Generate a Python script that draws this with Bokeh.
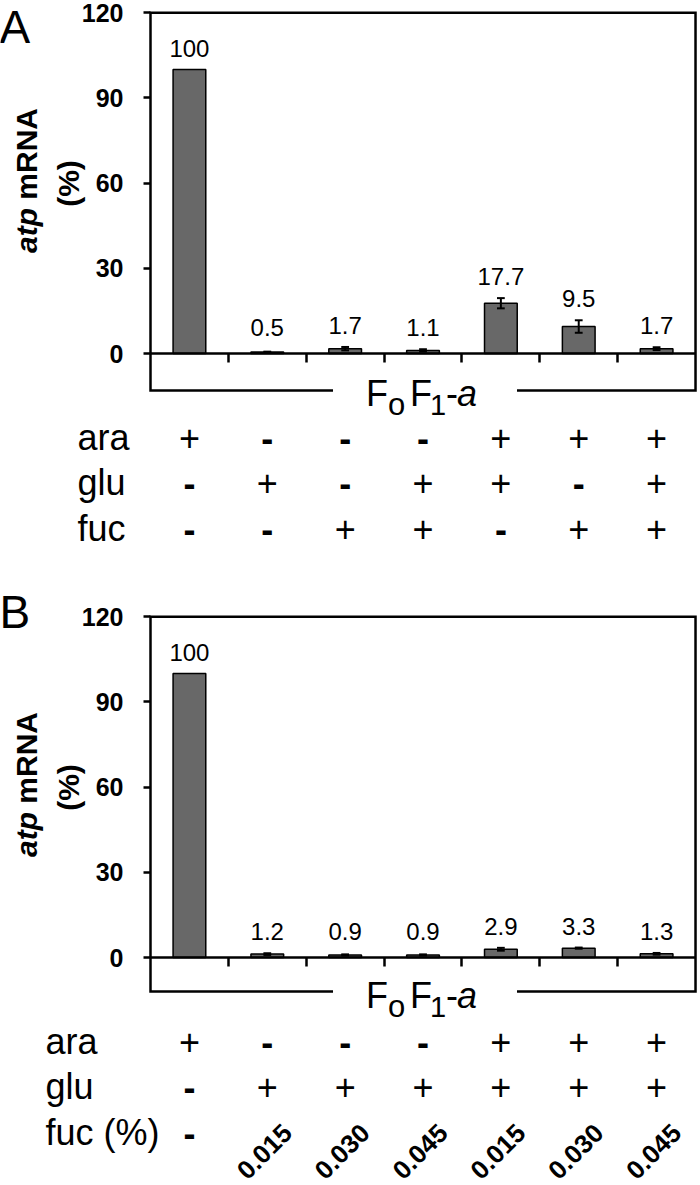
import math
from bokeh.plotting import figure
from bokeh.models import LinearAxis, FixedTicker, Range1d
from bokeh.layouts import column
from bokeh.embed import file_html
from bokeh.resources import INLINE
from bokeh.core.properties import value

# ---------------- data ----------------
lanes = ["1", "2", "3", "4", "5", "6", "7"]
y_ticks = [0, 30, 60, 90, 120]

a_values = [100, 0.5, 1.7, 1.1, 17.7, 9.5, 1.7]
a_errors = [0, 0.15, 0.6, 0.4, 1.8, 2.2, 0.5]
a_labels = ["100", "0.5", "1.7", "1.1", "17.7", "9.5", "1.7"]
a_row_names = ["ara", "glu", "fuc"]
a_ara = ["+", "-", "-", "-", "+", "+", "+"]
a_glu = ["-", "+", "-", "+", "+", "-", "+"]
a_fuc = ["-", "-", "+", "+", "-", "+", "+"]

b_values = [100, 1.2, 0.9, 0.9, 2.9, 3.3, 1.3]
b_errors = [0, 0.3, 0.2, 0.2, 0.5, 0.2, 0.3]
b_labels = ["100", "1.2", "0.9", "0.9", "2.9", "3.3", "1.3"]
b_row_names = ["ara", "glu", "fuc (%)"]
b_ara = ["+", "-", "-", "-", "+", "+", "+"]
b_glu = ["-", "+", "+", "+", "+", "+", "+"]
b_fuc = ["-", "0.015", "0.030", "0.045", "0.015", "0.030", "0.045"]

# ---------------- layout constants ----------------
FONT = "Liberation Sans"
W = 700
LEFT = 150          # canvas px of the value axis
CAT = 77.86         # px per lane
PXU = 2.84          # px per y unit
BAR_COLOR = "#686868"
LW = 2.5
MID = 0.347         # em-box middle above the baseline


def make_panel(letter, vals, errs, labels, row_names, rows, H, zero_px,
               letter_base_above, row_label_px, bracket_px, gene_base_px):
    n = len(lanes)
    p = figure(width=W, height=H,
               x_range=Range1d(-LEFT / CAT, (W - LEFT) / CAT),
               y_range=Range1d(-(H - zero_px) / PXU, zero_px / PXU),
               output_backend="svg", toolbar_location=None,
               x_axis_type=None, y_axis_type=None, min_border=0,
               outline_line_color=None)
    p.background_fill_color = "white"
    p.border_fill_color = "white"

    def dy(px):
        return px / PXU

    def dx(px):
        return px / CAT

    def xp(canvas_px):
        return (canvas_px - LEFT) / CAT

    xc = [i + 0.5 for i in range(n)]

    # value axis
    yax = LinearAxis(fixed_location=0, ticker=FixedTicker(ticks=y_ticks),
                     axis_line_color=None, major_tick_out=7, major_tick_in=0,
                     minor_tick_out=0, minor_tick_in=0,
                     major_tick_line_width=LW, major_tick_line_color="black",
                     major_label_standoff=20,
                     major_label_text_font=FONT,
                     major_label_text_font_style="bold",
                     major_label_text_font_size="25px",
                     major_label_text_color="black")
    p.add_layout(yax, "left")

    # lane separator ticks
    sep = list(range(1, n))
    xax = LinearAxis(fixed_location=0, ticker=FixedTicker(ticks=sep),
                     axis_line_color=None, major_tick_out=9, major_tick_in=0,
                     minor_tick_out=0, minor_tick_in=0,
                     major_tick_line_width=LW, major_tick_line_color="black",
                     major_label_overrides={s: "" for s in sep},
                     major_label_text_font_size="1px")
    p.add_layout(xax, "below")

    # bars
    p.vbar(x=xc, top=vals, bottom=0, width=0.42, fill_color=BAR_COLOR,
           line_color="black", line_width=1.5)

    # error bars
    ex = [x for x, e in zip(xc, errs) if e > 0]
    lo = [v - e for v, e in zip(vals, errs) if e > 0]
    hi = [v + e for v, e in zip(vals, errs) if e > 0]
    p.segment(x0=ex, y0=lo, x1=ex, y1=hi, line_color="black", line_width=2)
    cw = 0.05
    p.segment(x0=[x - cw for x in ex], y0=hi, x1=[x + cw for x in ex], y1=hi,
              line_color="black", line_width=2)
    p.segment(x0=[x - cw for x in ex], y0=lo, x1=[x + cw for x in ex], y1=lo,
              line_color="black", line_width=2)

    # frame + bracket
    b = -dy(bracket_px)
    mid = n / 2
    p.line(x=[mid - dx(90), 0, 0, n, n, mid + dx(94)],
           y=[b, b, y_ticks[-1], y_ticks[-1], b, b],
           line_color="black", line_width=LW, line_join="miter")
    p.line(x=[0, n], y=[0, 0], line_color="black", line_width=LW)

    # value labels (baseline 13 px above the error bar, at least 18 px above 0)
    vfs = 24
    ly = [max(v + e + dy(13), dy(18)) + dy(MID * vfs) for v, e in zip(vals, errs)]
    p.text(x=xc, y=ly, text=labels, text_align="center",
           text_baseline="middle", text_font=value(FONT),
           text_font_size=f"{vfs}px", text_color="black")

    # gene label F_O F_1 - a
    pieces = [("F", -57, 36, "normal", 0), ("o", -35, 31, "normal", 10),
              ("F", -13, 36, "normal", 0), ("1", 7, 29, "normal", 10),
              ("-", 23, 36, "normal", 0), ("a", 34, 36, "italic", 0)]
    for t, off, fs, st, sub in pieces:
        yb = -dy(gene_base_px + sub) + dy(MID * fs)
        p.text(x=[mid + dx(off)], y=[yb], text=[t], text_align="left",
               text_baseline="middle", text_font=value(FONT),
               text_font_size=f"{fs}px", text_font_style=st, text_color="black")

    # y-axis title: "atp mRNA" / "(%)"
    F = 30
    yc = dy(173)
    start = yc - dy(4.833 * F / 2)
    p.text(x=[xp(26)], y=[start], text=["atp"], angle=math.pi / 2,
           text_align="left", text_baseline="middle", text_font=value(FONT),
           text_font_size=f"{F}px", text_font_style="bold italic",
           text_color="black")
    p.text(x=[xp(26)], y=[start + dy(1.778 * F)], text=["mRNA"],
           angle=math.pi / 2, text_align="left", text_baseline="middle",
           text_font=value(FONT), text_font_size=f"{F}px",
           text_font_style="bold", text_color="black")
    p.text(x=[xp(68)], y=[dy(170)], text=["(%)"], angle=math.pi / 2,
           text_align="center", text_baseline="middle", text_font=value(FONT),
           text_font_size=f"{F}px", text_font_style="bold", text_color="black")

    # panel letter
    lfs = 46
    p.text(x=[xp(-1)], y=[dy(letter_base_above) + dy(MID * lfs)], text=[letter],
           text_align="left", text_baseline="middle", text_font=value(FONT),
           text_font_size=f"{lfs}px", text_color="black")

    # condition rows
    row_offsets = [84, 129, 175]
    for name, cells, off in zip(row_names, rows, row_offsets):
        yy = -dy(off)
        p.text(x=[xp(row_label_px)], y=[yy], text=[name], text_align="left",
               text_baseline="middle", text_font=value(FONT),
               text_font_size="36px", text_color="black")
        sx = [x for x, c in zip(xc, cells) if c in ("+", "-")]
        st = [c for c in cells if c in ("+", "-")]
        sst = ["bold" if c == "-" else "normal" for c in st]
        p.text(x=sx, y=[yy] * len(sx), text=st, text_align="center",
               text_baseline="middle", text_font=value(FONT),
               text_font_size="36px", text_font_style=sst, text_color="black")
        rx = [x - dx(3) for x, c in zip(xc, cells) if c not in ("+", "-")]
        rt = [c for c in cells if c not in ("+", "-")]
        if rt:
            p.text(x=rx, y=[-dy(194)] * len(rx), text=rt, angle=math.pi / 4,
                   text_align="center", text_baseline="middle",
                   text_font=value(FONT), text_font_size="26px",
                   text_font_style="bold", text_color="black")
    return p


pA = make_panel("A", a_values, a_errors, a_labels, a_row_names,
                [a_ara, a_glu, a_fuc], H=584, zero_px=353,
                letter_base_above=311, row_label_px=77,
                bracket_px=37, gene_base_px=52)
pB = make_panel("B", b_values, b_errors, b_labels, b_row_names,
                [b_ara, b_glu, b_fuc], H=601, zero_px=373,
                letter_base_above=330, row_label_px=45,
                bracket_px=34, gene_base_px=50)

layout = column(pA, pB, spacing=0)
open("out.html", "w").write(file_html(layout, INLINE))
